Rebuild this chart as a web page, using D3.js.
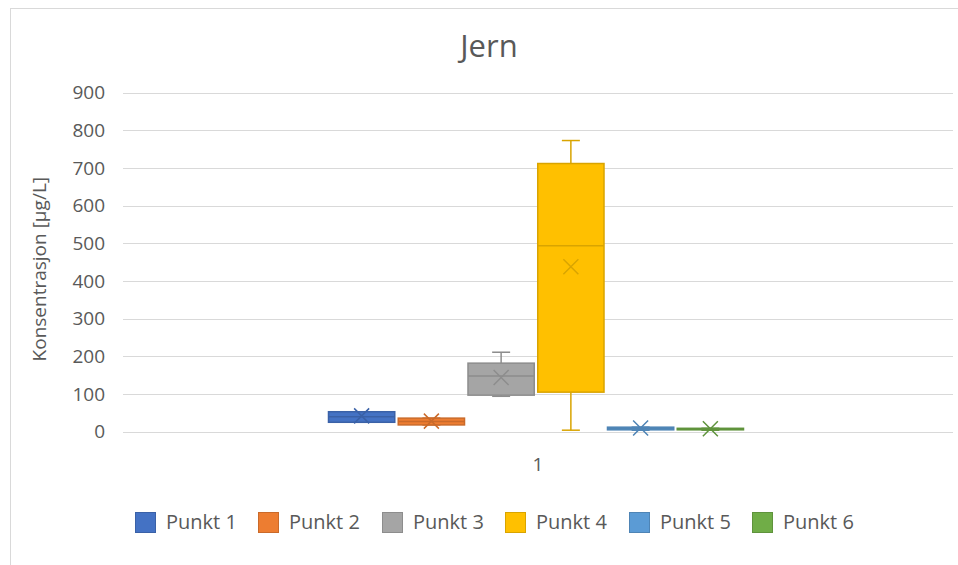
<!DOCTYPE html>
<html>
<head>
<meta charset="utf-8">
<script src="https://cdn.jsdelivr.net/npm/d3@7"></script>
<style>
  html, body { margin: 0; padding: 0; background: #fff; }
  svg { display: block; }
  text { font-family: "Open Sans", "Liberation Sans", sans-serif; fill: #595959; }
</style>
</head>
<body>
<svg id="chart" width="958" height="565"></svg>
<script>
// Iron concentration per sampling point (µg/L): box-and-whisker statistics
const categories = ["1"];
const seriesNames = ["Punkt 1", "Punkt 2", "Punkt 3", "Punkt 4", "Punkt 5", "Punkt 6"];
const seriesColors = ["#4472C4", "#ED7D31", "#A5A5A5", "#FFC000", "#5B9BD5", "#70AD47"];
const minValues    = [25, 18, 94, 4, 4, 4];
const q1Values     = [25, 18, 97, 105, 5, 5];
const medianValues = [40, 27, 148, 494, 9, 7];
const q3Values     = [53, 36, 182, 712, 12, 9];
const maxValues    = [53, 36, 211, 773, 12, 9];
const meanValues   = [42, 28, 144, 438, 10, 8];
const yTicks = [0, 100, 200, 300, 400, 500, 600, 700, 800, 900];

const svg = d3.select("#chart");
const W = 958, H = 565;

// chart frame
svg.append("rect")
  .attr("x", 10.5).attr("y", 8.5)
  .attr("width", W + 10).attr("height", H + 10)
  .attr("fill", "#fff").attr("stroke", "#d9d9d9").attr("stroke-width", 1);

const plot = { left: 123, right: 953, top: 92.7, bottom: 431.7 };

const y = d3.scaleLinear().domain([0, 900]).range([plot.bottom, plot.top]);
const x = d3.scaleBand().domain(categories).range([plot.left, plot.right]);

// gridlines
svg.append("g")
  .selectAll("line")
  .data(yTicks)
  .join("line")
  .attr("x1", plot.left).attr("x2", plot.right)
  .attr("y1", d => Math.round(y(d)) + 0.5).attr("y2", d => Math.round(y(d)) + 0.5)
  .attr("stroke", "#d9d9d9").attr("stroke-width", 1);

// y axis labels
const yAxis = d3.axisLeft(y).tickValues(yTicks).tickSize(0).tickPadding(0);
const yg = svg.append("g").attr("transform", `translate(${plot.left - 18},0)`).call(yAxis);
yg.select(".domain").remove();
yg.selectAll("text")
  .attr("font-size", 19)
  .attr("fill", "#595959")
  .style("font-family", '"Open Sans", sans-serif');

// x axis label
const xAxis = d3.axisBottom(x).tickSize(0).tickPadding(0);
const xg = svg.append("g").attr("transform", `translate(0,${plot.bottom + 26})`).call(xAxis);
xg.select(".domain").remove();
xg.selectAll("text")
  .attr("font-size", 19)
  .attr("fill", "#595959")
  .style("font-family", '"Open Sans", sans-serif');

// series positions inside the category
const catCenter = x(categories[0]) + x.bandwidth() / 2;
const groupWidth = x.bandwidth() / 2;
const inner = d3.scaleBand()
  .domain(seriesNames)
  .range([catCenter - groupWidth / 2 - 2, catCenter + groupWidth / 2 - 2])
  .paddingInner(0.05);

const boxes = seriesNames.map((name, i) => ({
  name, color: seriesColors[i],
  min: minValues[i], q1: q1Values[i], median: medianValues[i],
  q3: q3Values[i], max: maxValues[i], mean: meanValues[i]
}));

const bg = svg.append("g");
boxes.forEach(b => {
  const x0 = inner(b.name);
  const bw = inner.bandwidth();
  const cx = x0 + bw / 2;
  const dark = d3.color(b.color).darker(0.45).formatHex();
  const g = bg.append("g");
  const capW = 18;
  // whiskers
  g.append("line").attr("x1", cx).attr("x2", cx)
    .attr("y1", y(b.q3)).attr("y2", y(b.max))
    .attr("stroke", dark).attr("stroke-width", 1.5);
  g.append("line").attr("x1", cx).attr("x2", cx)
    .attr("y1", y(b.q1)).attr("y2", y(b.min))
    .attr("stroke", dark).attr("stroke-width", 1.5);
  g.append("line").attr("x1", cx - capW / 2).attr("x2", cx + capW / 2)
    .attr("y1", y(b.max)).attr("y2", y(b.max))
    .attr("stroke", dark).attr("stroke-width", 1.5);
  g.append("line").attr("x1", cx - capW / 2).attr("x2", cx + capW / 2)
    .attr("y1", y(b.min)).attr("y2", y(b.min))
    .attr("stroke", dark).attr("stroke-width", 1.5);
  // box
  g.append("rect")
    .attr("x", x0).attr("y", y(b.q3))
    .attr("width", bw).attr("height", Math.max(1, y(b.q1) - y(b.q3)))
    .attr("fill", b.color).attr("stroke", dark).attr("stroke-width", 1.5);
  // median
  g.append("line").attr("x1", x0).attr("x2", x0 + bw)
    .attr("y1", y(b.median)).attr("y2", y(b.median))
    .attr("stroke", dark).attr("stroke-width", 1.5);
  // mean marker
  const m = 7.5, my = y(b.mean);
  g.append("path")
    .attr("d", `M${cx - m},${my - m}L${cx + m},${my + m}M${cx - m},${my + m}L${cx + m},${my - m}`)
    .attr("stroke", dark).attr("stroke-width", 1.5).attr("fill", "none");
});

// title
svg.append("text")
  .attr("x", 489).attr("y", 57)
  .attr("text-anchor", "middle")
  .attr("font-size", 31)
  .text("Jern");

// y axis title
svg.append("text")
  .attr("transform", `translate(46,${(plot.top + plot.bottom) / 2 + 7}) rotate(-90)`)
  .attr("text-anchor", "middle")
  .attr("font-size", 19)
  .text("Konsentrasjon [µg/L]");

// legend
const legendX = [135, 258, 382, 505, 629, 752];
const lg = svg.append("g");
boxes.forEach((b, i) => {
  const dark = d3.color(b.color).darker(0.45).formatHex();
  lg.append("rect")
    .attr("x", legendX[i] + 0.5).attr("y", 512.5)
    .attr("width", 20).attr("height", 20)
    .attr("fill", b.color).attr("stroke", dark).attr("stroke-width", 1);
  lg.append("text")
    .attr("x", legendX[i] + 31).attr("y", 529)
    .attr("font-size", 20)
    .text(b.name);
});
</script>
</body>
</html>
